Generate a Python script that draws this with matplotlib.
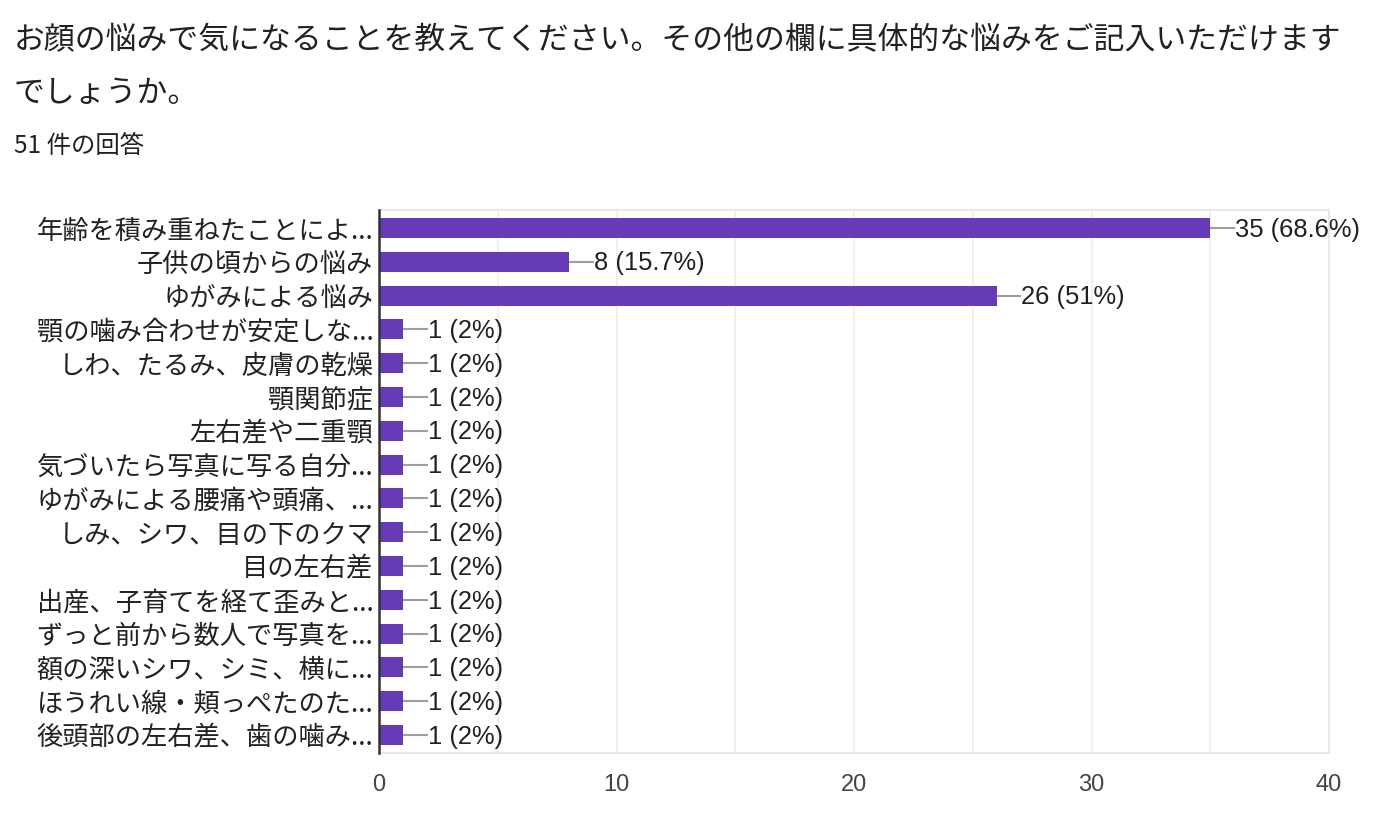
import matplotlib
matplotlib.use("Agg")
import matplotlib.pyplot as plt
import numpy as np

plt.rcParams['font.family'] = ['Noto Sans CJK JP', 'DejaVu Sans']

# data
title_lines = ["お顔の悩みで気になることを教えてください。その他の欄に具体的な悩みをご記入いただけます",
               "でしょうか。"]
subtitle = "51 件の回答"
categories = [
    "年齢を積み重ねたことによ...",
    "子供の頃からの悩み",
    "ゆがみによる悩み",
    "顎の噛み合わせが安定しな...",
    "しわ、たるみ、皮膚の乾燥",
    "顎関節症",
    "左右差や二重顎",
    "気づいたら写真に写る自分...",
    "ゆがみによる腰痛や頭痛、...",
    "しみ、シワ、目の下のクマ",
    "目の左右差",
    "出産、子育てを経て歪みと...",
    "ずっと前から数人で写真を...",
    "額の深いシワ、シミ、横に...",
    "ほうれい線・頬っぺたのた...",
    "後頭部の左右差、歯の噛み...",
]
counts = [35, 8, 26, 1, 1, 1, 1, 1, 1, 1, 1, 1, 1, 1, 1, 1]
percents = ["68.6%", "15.7%", "51%", "2%", "2%", "2%", "2%", "2%",
            "2%", "2%", "2%", "2%", "2%", "2%", "2%", "2%"]
xticks = [0, 10, 20, 30, 40]

fig = plt.figure(figsize=(13.82, 8.16), dpi=100)
for i, line in enumerate(title_lines):
    fig.text(14 / 1382, 1 - (41 + 52 * i) / 816, line, fontsize=22.2,
             color='#202124', va='center', ha='left')
fig.text(14 / 1382, 1 - 146 / 816, subtitle, fontsize=17.6, color='#202124',
         va='center', ha='left')

ax = fig.add_axes([379 / 1382, 63 / 816, 950 / 1382, 543 / 816])
y = np.arange(len(categories))
ax.barh(y, counts, height=0.59, color='#673ab7', zorder=3)

# connector line + value label
for yi, c, p in zip(y, counts, percents):
    ax.plot([c, c + 1], [yi, yi], color='#9e9e9e', lw=1.5, zorder=2)
    ax.text(c + 1.05, yi + 0.05, f"{c} ({p})", va='center', ha='left',
            fontsize=18.4, family='Liberation Sans', color='#202124', zorder=4)

ax.set_xlim(0, 40)
ax.set_ylim(len(categories) - 0.47, -0.53)
ax.set_xticks(xticks)
ax.set_xticks(np.arange(5, 40, 10), minor=True)
ax.set_xticklabels([str(t) for t in xticks], family='Liberation Sans',
                   fontsize=17, color='#444444')
ax.set_yticks(y)
ax.set_yticklabels(categories, fontsize=18.9, color='#222222')
ax.tick_params(axis='both', length=0)
ax.tick_params(axis='x', pad=15)
ax.tick_params(axis='y', pad=4)
ax.tick_params(axis='x', which='minor', length=0)
ax.grid(axis='x', which='both', color='#eeeeee', lw=1.2, zorder=0)

for side in ['top', 'right', 'bottom']:
    ax.spines[side].set_color('#e8e8e8')
    ax.spines[side].set_linewidth(1.5)
ax.spines['left'].set_color('#333333')
ax.spines['left'].set_linewidth(1.8)
ax.spines['left'].set_zorder(5)

fig.savefig("out.png", dpi=100)
